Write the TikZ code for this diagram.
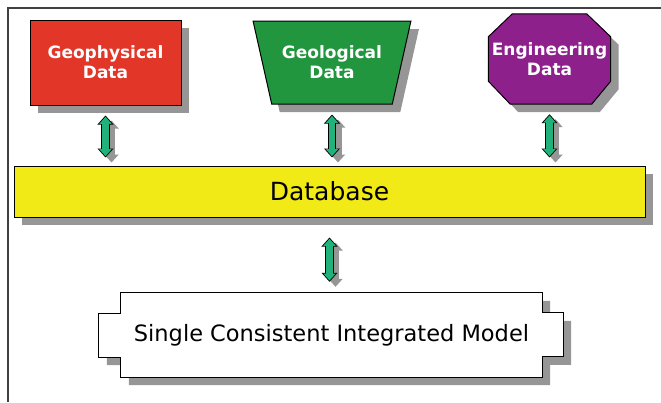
\documentclass[tikz,border=0pt]{standalone}
\usepackage{fontspec}
\setmainfont{DejaVu Sans}
\usetikzlibrary{shapes.geometric,shadows,arrows.meta,backgrounds}

\definecolor{geored}{RGB}{226,54,40}
\definecolor{geogreen}{RGB}{34,150,62}
\definecolor{engpurple}{RGB}{142,32,140}
\definecolor{dbyellow}{RGB}{242,234,22}
\definecolor{linkgreen}{RGB}{32,178,122}
\definecolor{shadowgray}{RGB}{150,150,150}

\tikzset{
  boxshadow/.style={drop shadow={shadow xshift=8pt,shadow yshift=-8pt,fill=shadowgray,opacity=1}},
  sourcetext/.style={text=white,inner sep=0pt,align=center,
    font=\fontsize{17}{20}\selectfont\bfseries},
  datasource/.style={sourcetext,draw=black,line width=1pt,boxshadow},
  linkshadow/.style={draw=shadowgray,line width=7pt,
    {Triangle[width=14pt,length=8pt]}-{Triangle[width=14pt,length=8pt]}},
  linkoutline/.style={draw=black,line width=8.6pt,
    {Triangle[width=15.5pt,length=9pt]}-{Triangle[width=15.5pt,length=9pt]}},
  linkfill/.style={draw=linkgreen,line width=6.4pt,
    {Triangle[width=12pt,length=7pt]}-{Triangle[width=12pt,length=7pt]}}
}

\begin{document}
\begin{tikzpicture}[x=1pt,y=-1pt]
  \useasboundingbox (0,0) rectangle (661,402);
  % frame
  \draw[line width=1.2pt,black!75] (661,8) -- (8,8) -- (8,402);

  % the three data sources
  \node[datasource,rectangle,fill=geored,minimum width=151pt,minimum height=85pt]
    (geophys) at (105.5,62.5) {Geophysical\\Data};
  \node[datasource,trapezium,shape border rotate=180,trapezium stretches=true,
    trapezium left angle=65,trapezium right angle=65,fill=geogreen,
    minimum width=158pt,minimum height=83pt]
    (geolog) at (332,62.5) {Geological\\Data};
  \node[sourcetext,rectangle,minimum width=122pt,minimum height=90pt]
    (eng) at (549.5,59) {Engineering\\Data};
  \begin{scope}[on background layer]
    \filldraw[draw=black,line width=1pt,fill=engpurple,boxshadow]
      ([xshift=24pt]eng.north west) -- ([xshift=-24pt]eng.north east)
      -- ([yshift=-23pt]eng.north east) -- ([yshift=23pt]eng.south east)
      -- ([xshift=-19pt]eng.south east) -- ([xshift=22pt]eng.south west)
      -- ([yshift=23pt]eng.south west) -- ([yshift=-23pt]eng.north west) -- cycle;
  \end{scope}

  % database
  \node[draw=black,line width=1pt,fill=dbyellow,boxshadow,inner sep=0pt,
    minimum width=631pt,minimum height=51pt,font=\fontsize{25}{28}\selectfont]
    (db) at (329.5,191.5) {Database};

  % model
  \node[inner sep=0pt,minimum width=421pt,minimum height=84pt,
    font=\fontsize{22.5}{26}\selectfont]
    (model) at (331.5,335) {Single Consistent Integrated Model};
  \begin{scope}[on background layer]
    \filldraw[draw=black,line width=1pt,fill=white,boxshadow]
      (model.north west) -- (model.north east) -- ++(0,20) -- ++(21,0)
      -- ++(0,44) -- ++(-21,0) -- (model.south east) -- (model.south west)
      -- ++(0,-20) -- ++(-22,0) -- ++(0,-44) -- ++(22,0) -- cycle;
  \end{scope}

  % links
  \foreach \from/\to/\sa/\sb in {geophys/db/10/8,geolog/db/10/8,eng/db/10/8,db/model/20/11}
  {
    \draw[linkshadow,transform canvas={shift={(6pt,-5pt)}},shorten <=\sa pt,shorten >=\sb pt]
      (\from.south) -- (\from.south |- \to.north);
    \draw[linkoutline,shorten <=\sa pt,shorten >=\sb pt]
      (\from.south) -- (\from.south |- \to.north);
    \draw[linkfill,shorten <=\sa pt+1.3pt,shorten >=\sb pt+1.3pt]
      (\from.south) -- (\from.south |- \to.north);
  }
\end{tikzpicture}
\end{document}
